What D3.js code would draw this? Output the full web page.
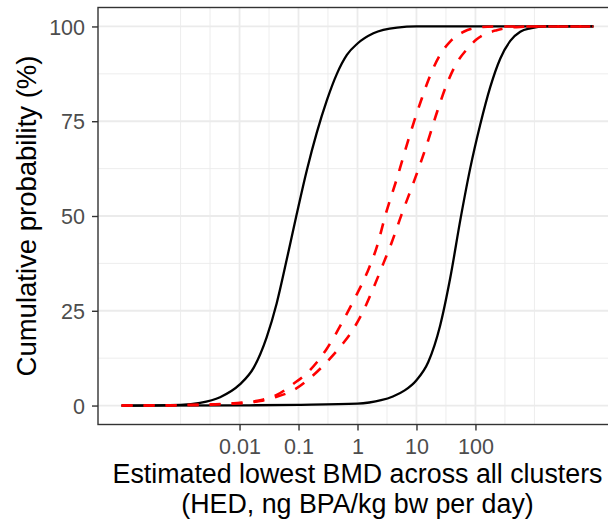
<!DOCTYPE html>
<html>
<head>
<meta charset="utf-8">
<script src="https://cdn.jsdelivr.net/npm/d3@7/dist/d3.min.js"></script>
<style>
  html, body { margin: 0; padding: 0; background: #fff; }
  svg { display: block; }
  text { font-family: "Liberation Sans", Arial, Helvetica, sans-serif; }
</style>
</head>
<body>
<svg id="chart" width="608" height="519"></svg>
<script>
// ---- data ----
const xTickValues = [0.01, 0.1, 1, 10, 100];
const xTickLabels = ["0.01", "0.1", "1", "10", "100"];
const xMinorBreaks = [0.001, 0.00316, 0.0316, 0.316, 3.16, 31.6, 316, 1000];
const yTickValues = [0, 25, 50, 75, 100];
const yTickLabels = ["0", "25", "50", "75", "100"];
const yMinorBreaks = [12.5, 37.5, 62.5, 87.5];
const xTitleLines = ["Estimated lowest BMD across all clusters", "(HED, ng BPA/kg bw per day)"];
const yTitle = "Cumulative probability (%)";

// black solid, left
const curveA_x = [0.0001, 0.001, 0.00214, 0.00468, 0.01, 0.0174, 0.0288, 0.0427, 0.0631, 0.0933, 0.138, 0.204, 0.302, 0.447, 0.661, 1, 1.86, 4.68, 10, 10000];
const curveA_y = [0, 0.2, 0.7, 2.2, 5.5, 10, 18, 27, 38.5, 50.5, 62, 72, 80.5, 87.5, 92.5, 95.5, 98.2, 99.7, 100, 100];
// black solid, right
const curveB_x = [0.0001, 0.01, 0.1, 1, 1.585, 2.51, 3.98, 6.31, 10, 15.85, 25.1, 37.2, 56.2, 81.3, 120, 178, 263, 389, 575, 851, 1585, 10000];
const curveB_y = [0, 0.05, 0.2, 0.5, 0.8, 1.4, 2.4, 4.0, 6.7, 11.5, 21, 33.5, 49.5, 62.5, 74, 84, 91.5, 96.2, 98.6, 99.5, 100, 100];
// red dashed, left
const curveC_x = [0.0001, 0.001, 0.00794, 0.0224, 0.0427, 0.0832, 0.158, 0.302, 0.575, 0.912, 1.45, 2.14, 2.95, 4.68, 7.76, 12.3, 17, 25.1, 37.2, 63.1, 93.3, 200, 10000];
const curveC_y = [0, 0.1, 0.6, 1.4, 2.8, 5.8, 9.4, 15, 22.5, 28.5, 35, 42, 50, 60, 71.5, 81, 87, 92.5, 96, 98.6, 99.5, 100, 100];
// red dashed, right
const curveD_x = [0.0001, 0.001, 0.00794, 0.0224, 0.0427, 0.0832, 0.158, 0.302, 0.575, 0.759, 1.26, 1.86, 2.75, 3.8, 5.62, 8.91, 15.1, 22.4, 33.1, 47.9, 70.8, 105, 229, 575, 1000, 10000];
const curveD_y = [0, 0.1, 0.5, 1.2, 2.3, 4.1, 7.3, 11.5, 16.5, 19, 25, 31, 37.5, 43, 50.5, 58.8, 69, 77.5, 85, 90.3, 93.9, 96.6, 99, 99.9, 100, 100];

const series = [
  { xs: curveA_x, ys: curveA_y, color: "#000000", dash: null, width: 2.3 },
  { xs: curveB_x, ys: curveB_y, color: "#000000", dash: null, width: 2.3 },
  { xs: curveC_x, ys: curveC_y, color: "#FF0000", dash: "11,11", width: 2.6 },
  { xs: curveD_x, ys: curveD_y, color: "#FF0000", dash: "11,11", width: 2.6 }
];

// ---- layout ----
const panel = { left: 98, right: 617, top: 7.5, bottom: 424.5 };
const svg = d3.select("#chart");

const x = d3.scaleLog()
  .domain([Math.pow(10, -4.4), Math.pow(10, 4.4)])
  .range([panel.left, panel.right]);
const y = d3.scaleLinear()
  .domain([-5, 105])
  .range([panel.bottom, panel.top]);

const g = svg.append("g");

// panel background
g.append("rect")
  .attr("x", panel.left).attr("y", panel.top)
  .attr("width", panel.right - panel.left).attr("height", panel.bottom - panel.top)
  .attr("fill", "#fff");

// minor grid
g.selectAll(".vminor").data(xMinorBreaks).enter().append("line")
  .attr("x1", d => x(d)).attr("x2", d => x(d))
  .attr("y1", panel.top).attr("y2", panel.bottom)
  .attr("stroke", "#EBEBEB").attr("stroke-width", 0.9);
g.selectAll(".hminor").data(yMinorBreaks).enter().append("line")
  .attr("y1", d => y(d)).attr("y2", d => y(d))
  .attr("x1", panel.left).attr("x2", panel.right)
  .attr("stroke", "#EBEBEB").attr("stroke-width", 0.9);
// major grid
g.selectAll(".vmajor").data(xTickValues).enter().append("line")
  .attr("x1", d => x(d)).attr("x2", d => x(d))
  .attr("y1", panel.top).attr("y2", panel.bottom)
  .attr("stroke", "#EBEBEB").attr("stroke-width", 1.8);
g.selectAll(".hmajor").data(yTickValues).enter().append("line")
  .attr("y1", d => y(d)).attr("y2", d => y(d))
  .attr("x1", panel.left).attr("x2", panel.right)
  .attr("stroke", "#EBEBEB").attr("stroke-width", 1.8);

// curves
const line = d3.line()
  .x(d => x(d[0]))
  .y(d => y(d[1]))
  .curve(d3.curveMonotoneX);

series.forEach(s => {
  const pts = s.xs.map((v, i) => [v, s.ys[i]]);
  g.append("path")
    .attr("d", line(pts))
    .attr("fill", "none")
    .attr("stroke", s.color)
    .attr("stroke-width", s.width)
    .attr("stroke-dasharray", s.dash)
    .attr("stroke-linejoin", "round");
});

// panel border
g.append("rect")
  .attr("x", panel.left).attr("y", panel.top)
  .attr("width", panel.right - panel.left).attr("height", panel.bottom - panel.top)
  .attr("fill", "none").attr("stroke", "#333333").attr("stroke-width", 1.4);

// axes
const xAxis = d3.axisBottom(x)
  .tickValues(xTickValues)
  .tickFormat((d, i) => xTickLabels[i])
  .tickSize(6).tickPadding(8);
const yAxis = d3.axisLeft(y)
  .tickValues(yTickValues)
  .tickFormat((d, i) => yTickLabels[i])
  .tickSize(6).tickPadding(7);

const gx = svg.append("g").attr("transform", `translate(0,${panel.bottom})`).call(xAxis);
const gy = svg.append("g").attr("transform", `translate(${panel.left},0)`).call(yAxis);
[gx, gy].forEach(a => {
  a.select(".domain").remove();
  a.selectAll(".tick line").attr("stroke", "#333333").attr("stroke-width", 1.4);
  a.selectAll(".tick text")
    .attr("fill", "#4D4D4D")
    .style("font-size", "21.5px")
    .style("font-family", '"Liberation Sans", Arial, sans-serif');
});
gy.selectAll(".tick text").attr("dy", "0.36em");
gx.selectAll(".tick text").attr("dy", "0.73em");

// axis titles
const xc = (panel.left + panel.right) / 2;
const xt = svg.append("text")
  .attr("x", xc).attr("y", 483)
  .attr("text-anchor", "middle")
  .style("font-size", "26.8px").attr("fill", "#000");
xTitleLines.forEach((t, i) => {
  xt.append("tspan")
    .attr("x", xc)
    .attr("dy", i === 0 ? 0 : 30)
    .text(t);
});
const yc = (panel.top + panel.bottom) / 2;
svg.append("text")
  .attr("transform", `translate(36,${yc}) rotate(-90)`)
  .attr("text-anchor", "middle")
  .style("font-size", "27.5px").attr("fill", "#000")
  .text(yTitle);
</script>
</body>
</html>
